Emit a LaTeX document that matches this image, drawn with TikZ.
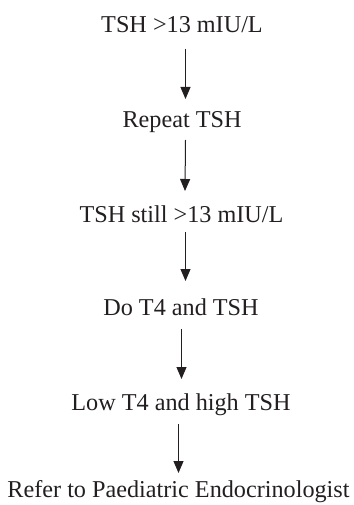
\documentclass[tikz,border=0pt]{standalone}
\usepackage{fontspec}
\setmainfont{Liberation Serif}
\usetikzlibrary{arrows.meta}
\definecolor{ink}{HTML}{231F20}
\begin{document}
\begin{tikzpicture}[x=1pt,y=1pt,
  stage/.style={anchor=base, inner sep=0pt, text=ink,
    font=\fontsize{24.2}{28}\selectfont},
  flow/.style={draw=ink, line width=1pt,
    -{Triangle[length=12pt,width=10pt]}}]
\useasboundingbox (0,0) rectangle (353,-505);

\node[stage] (s1) at (182,-33)  {TSH >13 mIU/L};
\node[stage] (s2) at (182,-128) {Repeat TSH};
\node[stage] (s3) at (181.5,-222) {TSH still >13 mIU/L};
\node[stage] (s4) at (181,-315) {Do T4 and TSH};
\node[stage] (s5) at (181,-410) {Low T4 and high TSH};
\node[stage] (s6) at (178.5,-497) {Refer to Paediatric Endocrinologist};

\draw[flow] ([xshift=3.5pt,yshift=-16pt]s1.base) -- ([xshift=3.5pt,yshift=29pt]s2.base);
\draw[flow] ([xshift=3.5pt,yshift=-12pt]s2.base) -- ([xshift=3.5pt,yshift=31pt]s3.base);
\draw[flow] ([xshift=4pt,yshift=-10pt]s3.base) -- ([xshift=4.5pt,yshift=34pt]s4.base);
\draw[flow] ([xshift=0.5pt,yshift=-14pt]s4.base) -- ([xshift=0.5pt,yshift=31pt]s5.base);
\draw[flow] ([xshift=-2.5pt,yshift=-14pt]s5.base) -- ([xshift=0pt,yshift=24pt]s6.base);
\end{tikzpicture}
\end{document}
